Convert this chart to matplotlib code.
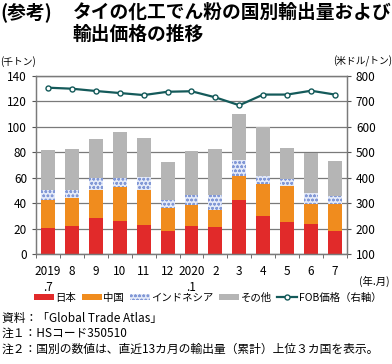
import numpy as np
import matplotlib.pyplot as plt
from matplotlib.lines import Line2D
from matplotlib.patches import Patch

plt.rcParams['font.family'] = ['Noto Sans CJK JP', 'DejaVu Sans']
plt.rcParams['hatch.linewidth'] = 0.7

months = ["2019\n.7", "8", "9", "10", "11", "12", "2020\n.1", "2", "3", "4", "5", "6", "7"]
japan = [20.7, 21.7, 28.5, 25.9, 23.0, 17.8, 22.0, 21.5, 42.4, 30.0, 25.1, 23.6, 17.8]
china = [22.0, 22.3, 21.8, 26.7, 27.3, 18.1, 16.2, 12.8, 18.9, 24.7, 28.3, 15.9, 21.5]
indonesia = [7.8, 6.3, 9.4, 7.4, 9.9, 6.5, 7.8, 11.7, 12.5, 6.8, 5.8, 8.1, 6.5]
other = [31.2, 31.9, 30.6, 35.8, 30.6, 29.9, 35.2, 36.2, 36.1, 38.5, 24.0, 32.0, 27.5]
fob = [753, 749, 740, 732, 724, 737, 739, 715, 684, 726, 726, 741, 726]

c_jp = "#e12a2a"
c_cn = "#f08c1e"
c_id = "#e4eaf8"
c_id_hatch = "#8298d6"
c_ot = "#b5b5b5"
c_line = "#145a5a"

fig = plt.figure(figsize=(3.92, 3.64), dpi=100)
ax = fig.add_axes([0.092, 0.302, 0.793, 0.49])

x = np.arange(len(months))
w = 0.58
b1 = np.array(japan)
b2 = b1 + np.array(china)
b3 = b2 + np.array(indonesia)
ax.bar(x, japan, w, color=c_jp, lw=0, zorder=2)
ax.bar(x, china, w, bottom=b1, color=c_cn, lw=0, zorder=2)
ax.bar(x, indonesia, w, bottom=b2, facecolor=c_id, edgecolor=c_id_hatch, hatch="oooo", lw=0, zorder=2)
ax.bar(x, other, w, bottom=b3, color=c_ot, lw=0, zorder=2)

ax.set_ylim(0, 140)
ax.set_yticks(range(0, 141, 20))
ax.set_xlim(-0.5, len(months) - 0.5)
ax.set_xticks(x)
ax.set_xticklabels(months, fontsize=8.5, linespacing=1.25, va="top")
ax.set_xticks(np.arange(-0.5, len(months)), minor=True)
ax.tick_params(axis="x", which="major", length=0, pad=8)
ax.tick_params(axis="x", which="minor", length=3, color="#555555", direction="out")
ax.tick_params(axis="y", labelsize=8.5, length=3, color="#555555", direction="out")
ax.grid(axis="y", color="#7a7a7a", lw=0.9, zorder=1)
for s in ax.spines.values():
    s.set_color("#7a7a7a")
    s.set_linewidth(0.9)

ax2 = ax.twinx()
ax2.plot(x, fob, color=c_line, lw=1.6, marker="o", ms=3.6, mfc="white", mec=c_line, mew=1.0, zorder=3)
ax2.set_ylim(100, 800)
ax2.set_yticks(range(100, 801, 100))
ax2.tick_params(axis="y", labelsize=8.5, length=3, color="#555555", direction="out")
for s in ax2.spines.values():
    s.set_color("#7a7a7a")
    s.set_linewidth(0.9)

fig.text(0.0, 0.967, "(参考)", fontsize=13.5, fontweight="bold", va="center")
fig.text(0.186, 0.967, "タイの化工でん粉の国別輸出量および", fontsize=13.5, fontweight="bold", va="center")
fig.text(0.186, 0.905, "輸出価格の推移", fontsize=13.5, fontweight="bold", va="center")

fig.text(0.0, 0.832, "(千トン)", fontsize=7, va="center")
fig.text(1.0, 0.832, "(米ドル/トン)", fontsize=7, va="center", ha="right")
fig.text(0.995, 0.226, "(年.月)", fontsize=7.5, va="center", ha="right")

handles = [
    Patch(facecolor=c_jp, lw=0),
    Patch(facecolor=c_cn, lw=0),
    Patch(facecolor=c_id, edgecolor=c_id_hatch, hatch="oooo", lw=0),
    Patch(facecolor=c_ot, lw=0),
    Line2D([], [], color=c_line, lw=1.6, marker="o", ms=3.6, mfc="white", mec=c_line),
]
labels = ["日本", "中国", "インドネシア", "その他", "FOB価格（右軸）"]
fig.legend(handles, labels, loc="center", bbox_to_anchor=(0.53, 0.182), ncol=5, frameon=False,
           fontsize=7.5, handlelength=1.9, handleheight=0.55, handletextpad=0.15,
           columnspacing=0.55, borderaxespad=0, borderpad=0)

fig.text(0.005, 0.126, "資料：「Global Trade Atlas」", fontsize=8.5, va="center")
fig.text(0.005, 0.085, "注１：HSコード350510", fontsize=8.5, va="center")
fig.text(0.005, 0.041, "注２：国別の数値は、直近13カ月の輸出量（累計）上位３カ国を表示。", fontsize=8.5, va="center")

fig.savefig("out.png", dpi=100)
